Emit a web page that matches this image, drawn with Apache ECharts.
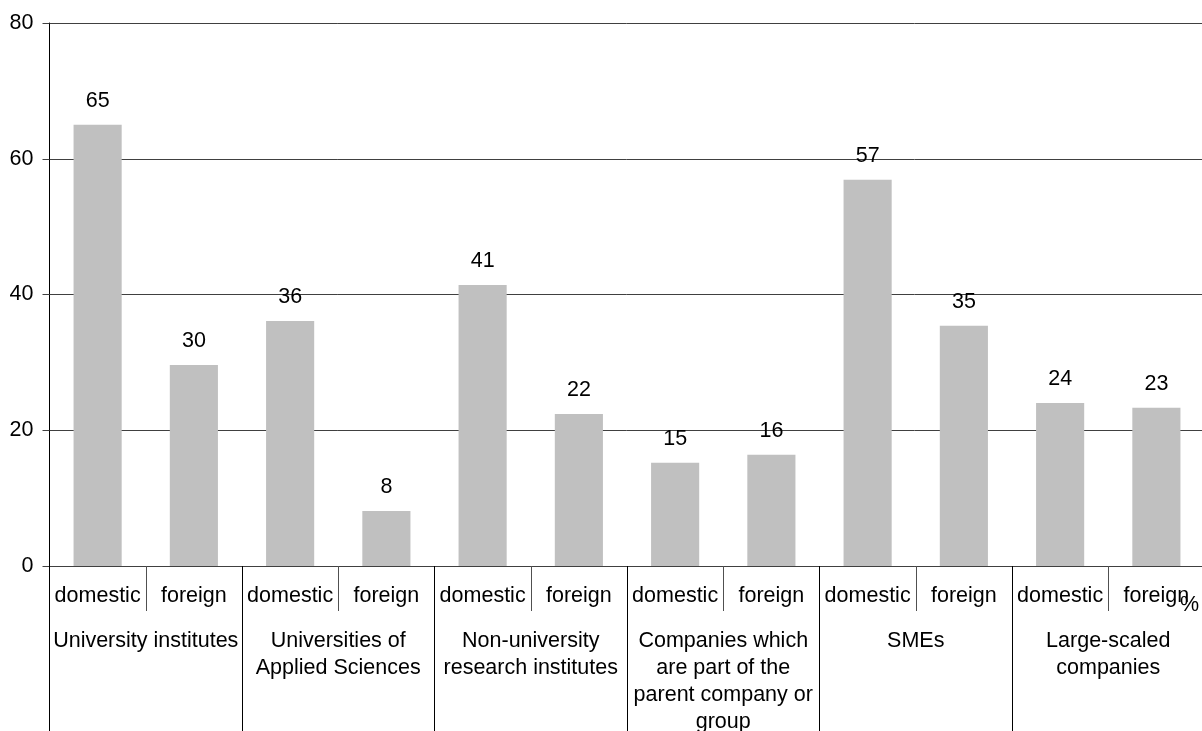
<!DOCTYPE html>
<html>
<head>
<meta charset="utf-8">
<script src="https://cdn.jsdelivr.net/npm/echarts@6/dist/echarts.min.js"></script>
<style>
html,body{margin:0;padding:0;background:#fff;}
#chart{width:1202px;height:731px;}
</style>
</head>
<body>
<div id="chart"></div>
<script>
const subCategories = ['domestic','foreign','domestic','foreign','domestic','foreign','domestic','foreign','domestic','foreign','domestic','foreign'];
const groupCategories = ['University institutes','Universities of\nApplied Sciences','Non-university\nresearch institutes','Companies which\nare part of the\nparent company or\ngroup','SMEs','Large-scaled\ncompanies'];
const values = [65.0, 29.6, 36.1, 8.1, 41.4, 22.4, 15.2, 16.4, 56.9, 35.4, 24.0, 23.3];
const yTicks = [0, 20, 40, 60, 80];
const unitLabel = '%';

const FONT = 'Liberation Sans, Arial, sans-serif';
const FS = 21.5;
const chart = echarts.init(document.getElementById('chart'), null, {renderer:'canvas'});
chart.setOption({
  animation: false,
  backgroundColor: '#fff',
  grid: {left: 49.5, right: -2.5, top: 23, bottom: 165, containLabel: false, outerBoundsMode: 'none'},
  xAxis: [
    {
      type: 'category', data: subCategories, position: 'bottom', boundaryGap: true,
      axisLine: {show: true, lineStyle: {color: '#404040', width: 1}},
      axisTick: {show: true, interval: 0, length: 45, inside: false, lineStyle: {color: '#505050'}},
      axisLabel: {interval: 0, color: '#000', fontFamily: FONT, fontSize: FS, margin: 19, lineHeight: 22}
    },
    {
      type: 'category', data: groupCategories, position: 'bottom', offset: 0, boundaryGap: true,
      axisLine: {show: false},
      axisTick: {show: true, interval: 0, length: 180, lineStyle: {color: '#000'}},
      axisLabel: {interval: 0, color: '#000', fontFamily: FONT, fontSize: FS, margin: 62, lineHeight: 27, verticalAlign: 'top'}
    }
  ],
  yAxis: {
    type: 'value', min: yTicks[0], max: yTicks[yTicks.length-1], interval: yTicks[1]-yTicks[0],
    axisLine: {show: true, lineStyle: {color: '#000'}},
    axisTick: {show: true, length: 7, lineStyle: {color: '#404040'}},
    axisLabel: {color: '#000', fontFamily: FONT, fontSize: FS, margin: 16},
    splitLine: {show: true, lineStyle: {color: '#404040', width: 1}}
  },
  series: [{
    type: 'bar', xAxisIndex: 0, data: values, barWidth: '50%',
    itemStyle: {color: '#C0C0C0'},
    label: {show: true, position: 'top', distance: 13, color: '#000', fontFamily: FONT, fontSize: FS,
      formatter: p => Math.round(p.value)}
  }],
  graphic: [{
    type: 'text', right: 3, top: 594,
    style: {text: unitLabel, fill: '#000', font: FS + 'px ' + FONT}
  }]
});
</script>
</body>
</html>
